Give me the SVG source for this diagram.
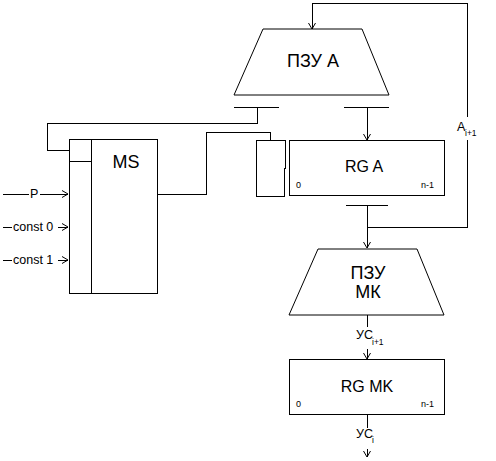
<svg xmlns="http://www.w3.org/2000/svg" width="496" height="461" viewBox="0 0 496 461">
<style>
.s{fill:none;stroke:#000;stroke-width:1;shape-rendering:crispEdges}
.b{fill:#fff;stroke:#000;stroke-width:1}
rect.b{shape-rendering:crispEdges}
text{font-family:"Liberation Sans",Arial,sans-serif;fill:#000}
.big{font-size:18px;text-anchor:middle}
.mid{font-size:16px;text-anchor:middle}
.sm{font-size:9px}
.lbl{font-size:12.5px}
.sub{font-size:8.5px}
</style>
<defs>
<marker id="arr" viewBox="-7 -5 8 10" markerWidth="8" markerHeight="10" refX="0" refY="0" orient="auto" markerUnits="userSpaceOnUse">
<path d="M-6,-3.5 L0,0 L-6,3.5" fill="none" stroke="#000" stroke-width="1"/>
</marker>
</defs>
<rect width="496" height="461" fill="#fff"/>
<g id="connectors">
<path class="s" d="M367,227 H467 V140"/>
<path class="s" d="M467,117 V3 H312 V29" marker-end="url(#arr)"/>
<path class="s" d="M234,107 H279"/>
<path class="s" d="M257,107 V123 H47 V150 H69"/>
<path class="s" d="M344,107 H389"/>
<path class="s" d="M367,107 V140" marker-end="url(#arr)"/>
<path class="s" d="M157,194 H206 V132 H270 V140"/>
<path class="s" d="M346,205 H388"/>
<path class="s" d="M367,205 V248" marker-end="url(#arr)"/>
<path class="s" d="M367,315 V327"/>
<path class="s" d="M367,349 V359" marker-end="url(#arr)"/>
<path class="s" d="M367,414 V428"/>
<path class="s" d="M367,449 V457" marker-end="url(#arr)"/>
<path class="s" d="M3,194 H29"/>
<path class="s" d="M40,194 H68" marker-end="url(#arr)"/>
<path class="s" d="M3,227 H12"/>
<path class="s" d="M58,227 H68" marker-end="url(#arr)"/>
<path class="s" d="M3,260 H12"/>
<path class="s" d="M58,260 H68" marker-end="url(#arr)"/>
</g>
<g id="pzu-a">
<polygon class="b" points="263,29 362,29 389,95 234,95"/>
<text class="big" x="313" y="67">ПЗУ А</text>
</g>
<g id="ms">
<rect class="b" x="69" y="139" width="88" height="154"/>
<path class="s" d="M91,139 V293 M69,161 H91"/>
<text class="big" x="126" y="168">MS</text>
</g>
<g id="small-reg">
<path class="s" d="M256,140 H285 V168 H284 V196 H256 Z"/>
</g>
<g id="rg-a">
<rect class="b" x="289" y="140" width="155" height="55"/>
<text class="mid" x="364" y="172">RG A</text>
<text class="sm" x="296" y="188">0</text>
<text class="sm" x="421" y="188">n-1</text>
</g>
<g id="pzu-mk">
<polygon class="b" points="318,249 417,249 444,315 289,315"/>
<text class="big" x="368" y="279">ПЗУ</text>
<text class="big" x="368" y="298">МК</text>
</g>
<g id="rg-mk">
<rect class="b" x="289" y="359" width="155" height="55"/>
<text class="mid" x="367" y="392">RG MK</text>
<text class="sm" x="296" y="407">0</text>
<text class="sm" x="421" y="407">n-1</text>
</g>
<g id="labels">
<text class="lbl" x="30" y="198">P</text>
<text class="lbl" x="13" y="231">const 0</text>
<text class="lbl" x="13" y="264">const 1</text>
<text class="lbl" x="457" y="131">A</text>
<text class="sub" x="465" y="136">i+1</text>
<text class="lbl" x="356" y="339">УС</text>
<text class="sub" x="372" y="345">i+1</text>
<text class="lbl" x="356" y="438">УС</text>
<text class="sub" x="372" y="443">i</text>
</g>
</svg>
